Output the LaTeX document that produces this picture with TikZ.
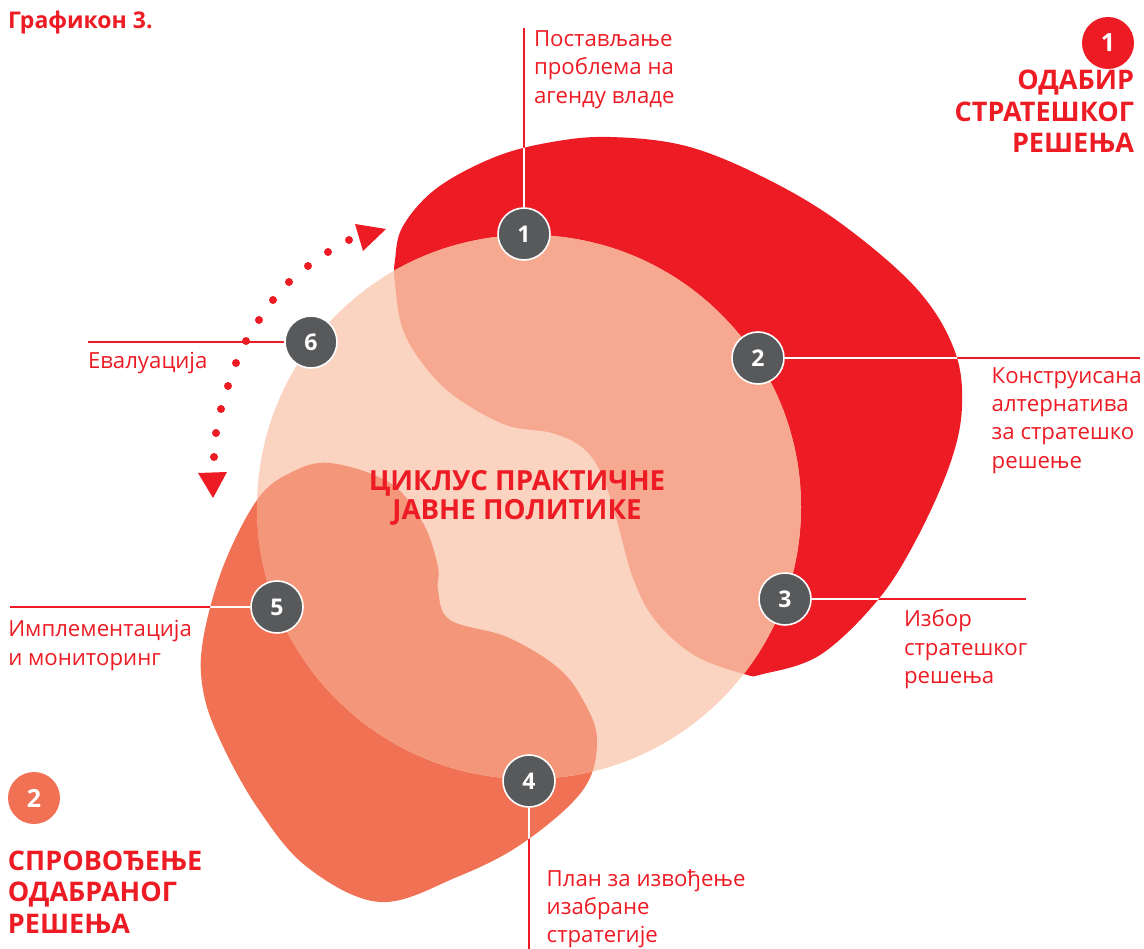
\documentclass[tikz,border=0pt]{standalone}
\usepackage{fontspec}
\setmainfont{Open Sans}
\definecolor{cred}{HTML}{ED1C24}
\definecolor{clight}{HTML}{FBD3C1}
\definecolor{csalmon}{HTML}{F7A890}
\definecolor{corange}{HTML}{F07153}
\definecolor{corlight}{HTML}{F49679}
\definecolor{cgray}{HTML}{58595B}
\def\redblob{plot[smooth cycle, tension=0.6] coordinates {(403,226) (437,188) (495,157) (552,142) (610,137) (686,146) (763,177) (839,222) (916,288) (954,349) (962,406) (950,464) (916,540) (877,601) (820,655) (763,674) (744,674) (694,655) (655,620) (633,578) (617,521) (602,475) (583,448) (552,433) (506,425) (457,398) (426,368) (403,330) (395,284) (395,260)}}
\def\orblob{plot[smooth cycle, tension=0.6] coordinates {(330,463) (390,483) (423,523) (438,567) (438,590) (450,620) (507,637) (557,667) (583,700) (597,740) (583,790) (523,843) (457,877) (380,902) (307,867) (257,807) (220,740) (203,690) (203,640) (223,567) (257,500) (290,473)}}
\def\mainring{(529,507) circle[radius=272]}
\begin{document}
\begin{tikzpicture}[x=1pt,y=-1pt,
  badge/.style={circle, fill=cgray, draw=white, line width=1.6pt, minimum size=52pt, inner sep=0pt, text=white, font=\bfseries\fontsize{23}{23}\selectfont},
  bignum/.style={circle, minimum size=52pt, inner sep=0pt, text=white, font=\bfseries\fontsize{25}{25}\selectfont},
  lbl/.style={anchor=base west, align=left, inner sep=0pt, outer sep=0pt, text=cred, font=\fontsize{22.2}{28.3}\selectfont},
  head/.style={inner sep=0pt, outer sep=0pt, text=cred, font=\bfseries\fontsize{27}{31.5}\selectfont},
  leader/.style={draw=cred, line width=1.3pt},
  leaderw/.style={draw=white, line width=1.3pt}]
\useasboundingbox (0,0) rectangle (1144,949);
% shapes
\fill[cred] \redblob;
\fill[corange] \orblob;
\fill[clight] \mainring;
\begin{scope}
  \clip \mainring;
  \fill[csalmon] \redblob;
  \fill[corlight] \orblob;
\end{scope}
% badges
\node[badge] (b1) at (524,234) {1};
\node[badge] (b2) at (758,358) {2};
\node[badge] (b3) at (785,599) {3};
\node[badge] (b4) at (529,781) {4};
\node[badge] (b5) at (277,607) {5};
\node[badge] (b6) at (311,342) {6};
% leader ends
\coordinate (e1) at (524,28);
\coordinate (e2) at (1140,358);
\coordinate (e3) at (1026,599);
\coordinate (e4) at (529,949);
\coordinate (e5) at (10,607);
\coordinate (e6) at (88,342);
\draw[leader] (b1) -- (e1);
\draw[leader] (b2) -- (e2);
\draw[leader] (b3) -- (e3);
\draw[leader] (b4) -- (e4);
\draw[leader] (b5) -- (e5);
\draw[leader] (b6) -- (e6);
\begin{scope}
  \clip \redblob;
  \draw[leaderw] (b1) -- (e1);
  \draw[leaderw] (b2) -- (e2);
  \draw[leaderw] (b3) -- (e3);
\end{scope}
\begin{scope}
  \clip \orblob;
  \draw[leaderw] (b4) -- (e4);
  \draw[leaderw] (b5) -- (e5);
\end{scope}
% labels (anchored at the baseline of the last line)
\node[lbl] (l1) at (534,103.3) {Постављање\\проблема на\\агенду владе};
\node[lbl] (l2) at (991.7,468.2) {Конструисана\\алтернатива\\за стратешко\\решење};
\node[lbl] (l3) at (904,683.3) {Избор\\стратешког\\решења};
\node[lbl] (l4) at (546.7,942.6) {План за извођење\\изабране\\стратегије};
\node[lbl] (l5) at (8.3,665) {Имплементација\\и мониторинг};
\node[lbl] (l6) at (88,369) {Евалуација};
% dotted arc
\foreach \p in {(349,240),(328,252),(308,266),(289,282),(273,300),(259,320),(246,341),(236,363),(228,386),(221,409),(216,433),(214,457)}
  \fill[cred] \p circle[radius=4pt];
\fill[cred] (355,224) -- (386,229) -- (363,251) -- cycle;
\fill[cred] (198,473) -- (227,472) -- (213,498) -- cycle;
% headings
\node[head, anchor=base, align=center, font=\bfseries\fontsize{27.7}{29}\selectfont] (ctr) at (517,519.3) {ЦИКЛУС ПРАКТИЧНЕ\\ЈАВНЕ ПОЛИТИКЕ};
\node[head, anchor=base east, align=right] (h1) at (1134,153) {ОДАБИР\\СТРАТЕШКОГ\\РЕШЕЊА};
\node[head, anchor=base west, align=left] (h2) at (8,933.3) {СПРОВОЂЕЊЕ\\ОДАБРАНОГ\\РЕШЕЊА};
\node[bignum, fill=cred] (n1) at (1108,43) {1};
\node[bignum, fill=corange] (n2) at (34,798) {2};
\node[anchor=base west, inner sep=0pt, text=cred, font=\bfseries\fontsize{23}{23}\selectfont] (title) at (8,29) {Графикон 3.};
\end{tikzpicture}
\end{document}
